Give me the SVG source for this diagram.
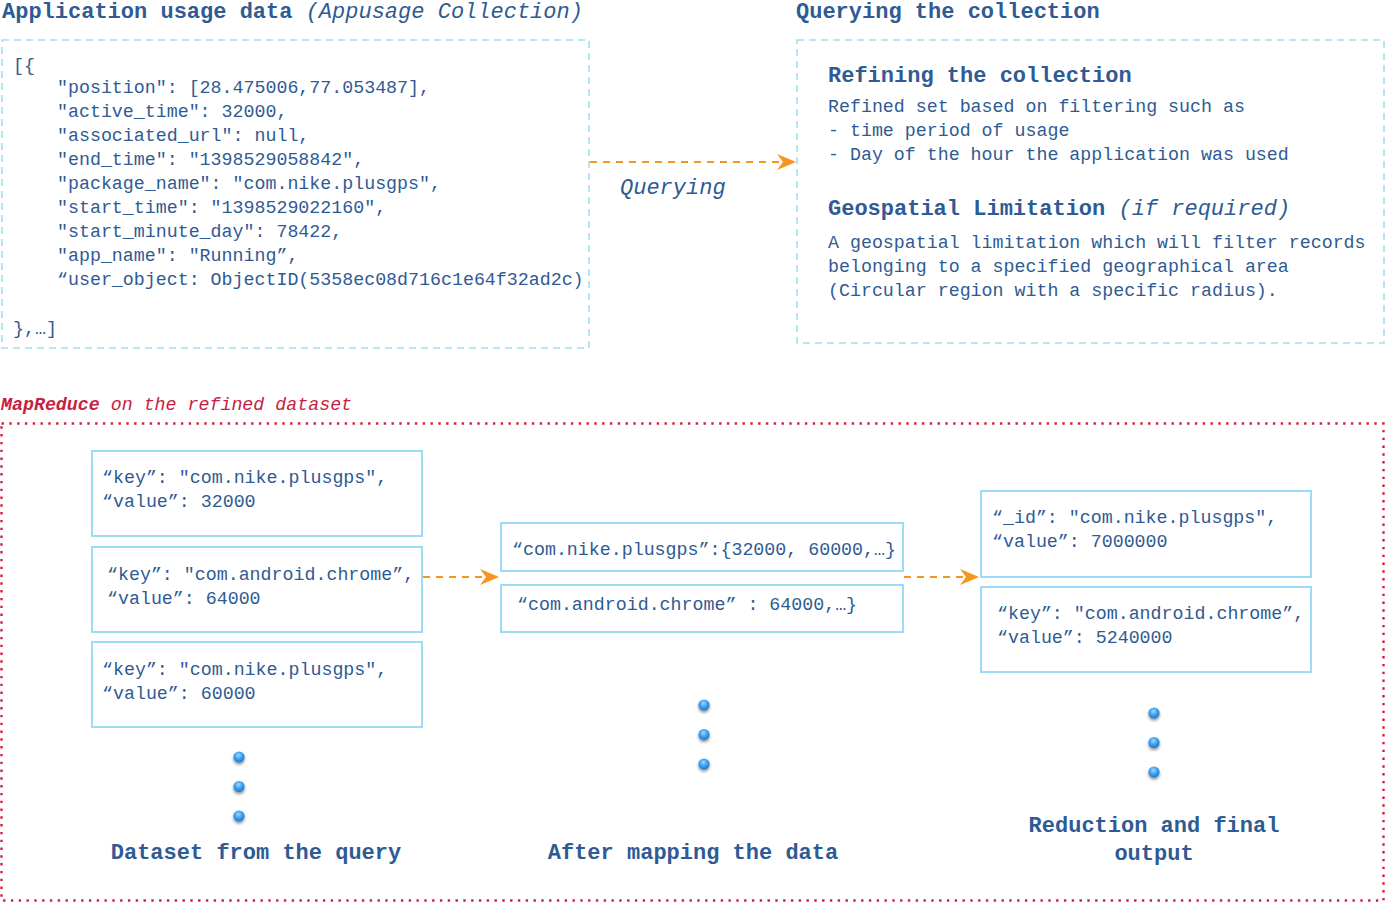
<svg xmlns="http://www.w3.org/2000/svg" width="1386" height="904" viewBox="0 0 1386 904">
<style>
text{font-family:"Liberation Mono","DejaVu Sans Mono",monospace;fill:#2f5b94}
.b{font-size:18.3px}
.h{font-size:22px;font-weight:bold}
.it{font-style:italic;font-weight:normal}
.q{font-size:22px;font-style:italic}
.dash{fill:none;stroke:#9fe0f0;stroke-width:1.6;stroke-dasharray:7,5}
.box{fill:#fff;stroke:#9ddcf6;stroke-width:2}
.arr{fill:none;stroke:#f7941d;stroke-width:2;stroke-dasharray:7,6}
.red{fill:#c8213f;font-size:18.3px;font-style:italic}
.lab{font-size:22px;font-weight:bold;text-anchor:middle}
</style>
<defs>
<marker id="ah" markerWidth="20" markerHeight="16" viewBox="0 0 20 16" refX="19" refY="8" orient="auto" markerUnits="userSpaceOnUse">
<path d="M0,0 L19,8 L0,16 L6,8 Z" fill="#f7941d"/>
</marker>
<radialGradient id="dg" cx="0.45" cy="0.35" r="0.7">
<stop offset="0" stop-color="#9fd6ff"/>
<stop offset="0.5" stop-color="#3a9ef0"/>
<stop offset="1" stop-color="#1c70c8"/>
</radialGradient>
<filter id="sh" x="-1" y="-1" width="3" height="3">
<feGaussianBlur in="SourceAlpha" stdDeviation="1.8"/>
<feOffset dy="1.5"/>
<feComponentTransfer><feFuncA type="linear" slope="0.45"/></feComponentTransfer>
<feMerge><feMergeNode/><feMergeNode in="SourceGraphic"/></feMerge>
</filter>
<g id="dots"><circle cx="0" cy="0" r="5.6" fill="url(#dg)" filter="url(#sh)"/><circle cx="0" cy="29.5" r="5.6" fill="url(#dg)" filter="url(#sh)"/><circle cx="0" cy="59" r="5.6" fill="url(#dg)" filter="url(#sh)"/></g>
</defs>
<rect width="1386" height="904" fill="#fff"/>

<g id="appusage">
<text class="h" x="2" y="18">Application usage data <tspan class="it">(Appusage Collection)</tspan></text>
<rect class="dash" x="2" y="40" width="587" height="308"/>
<text class="b" x="13" y="71">[{</text>
<text class="b" x="57" y="93">"position": [28.475006,77.053487],</text>
<text class="b" x="57" y="117">"active_time": 32000,</text>
<text class="b" x="57" y="141">"associated_url": null,</text>
<text class="b" x="57" y="165">"end_time": "1398529058842",</text>
<text class="b" x="57" y="189">"package_name": "com.nike.plusgps",</text>
<text class="b" x="57" y="213">"start_time": "1398529022160",</text>
<text class="b" x="57" y="237">"start_minute_day": 78422,</text>
<text class="b" x="57" y="261">"app_name": "Running”,</text>
<text class="b" x="57" y="285">“user_object: ObjectID(5358ec08d716c1e64f32ad2c)</text>
<text class="b" x="13" y="334">},…]</text>
</g>

<g id="querying">
<text class="h" x="796" y="18">Querying the collection</text>
<rect class="dash" x="797" y="40" width="587" height="303"/>
<text class="h" x="828" y="82">Refining the collection</text>
<text class="b" x="828" y="112">Refined set based on filtering such as</text>
<text class="b" x="828" y="136">- time period of usage</text>
<text class="b" x="828" y="160">- Day of the hour the application was used</text>
<text class="h" x="828" y="215">Geospatial Limitation <tspan class="it">(if required)</tspan></text>
<text class="b" x="828" y="248">A geospatial limitation which will filter records</text>
<text class="b" x="828" y="272">belonging to a specified geographical area</text>
<text class="b" x="828" y="296">(Circular region with a specific radius).</text>
</g>

<g id="mapreduce">
<text class="red" x="1" y="410"><tspan font-weight="bold">MapReduce</tspan> on the refined dataset</text>
<rect x="1.5" y="423.5" width="1382" height="477" fill="none" stroke="#d0213f" stroke-width="2.4" stroke-dasharray="2.4,5.4"/>
</g>

<g id="dataset">
<rect class="box" x="92" y="451" width="330" height="85"/>
<text class="b" x="102" y="483">“key”: "com.nike.plusgps",</text>
<text class="b" x="102" y="507">“value”: 32000</text>
<rect class="box" x="92" y="547" width="330" height="85"/>
<text class="b" x="107" y="580">“key”: "com.android.chrome”,</text>
<text class="b" x="107" y="604">“value”: 64000</text>
<rect class="box" x="92" y="642" width="330" height="85"/>
<text class="b" x="102" y="675">“key”: "com.nike.plusgps",</text>
<text class="b" x="102" y="699">“value”: 60000</text>
<use href="#dots" x="239" y="757"/>
<text class="lab" x="256" y="859">Dataset from the query</text>
</g>

<g id="mapped">
<rect class="box" x="501" y="523" width="402" height="48"/>
<text class="b" x="512" y="555">“com.nike.plusgps”:{32000, 60000,…}</text>
<rect class="box" x="501" y="585" width="402" height="47"/>
<text class="b" x="517" y="610">“com.android.chrome” : 64000,…}</text>
<use href="#dots" x="704" y="705"/>
<text class="lab" x="693" y="859">After mapping the data</text>
</g>

<g id="reduced">
<rect class="box" x="981" y="491" width="330" height="86"/>
<text class="b" x="992" y="523">“_id”: "com.nike.plusgps",</text>
<text class="b" x="992" y="547">“value”: 7000000</text>
<rect class="box" x="981" y="587" width="330" height="85"/>
<text class="b" x="997" y="619">“key”: "com.android.chrome”,</text>
<text class="b" x="997" y="643">“value”: 5240000</text>
<use href="#dots" x="1154" y="713"/>
<text class="lab" x="1154" y="832">Reduction and final</text>
<text class="lab" x="1154" y="860">output</text>
</g>

<g id="connectors">
<line class="arr" x1="590" y1="162" x2="796" y2="162" marker-end="url(#ah)"/>
<text class="q" x="620" y="194">Querying</text>
<line class="arr" x1="423" y1="577" x2="499" y2="577" marker-end="url(#ah)"/>
<line class="arr" x1="904" y1="577" x2="979" y2="577" marker-end="url(#ah)"/>
</g>
</svg>
